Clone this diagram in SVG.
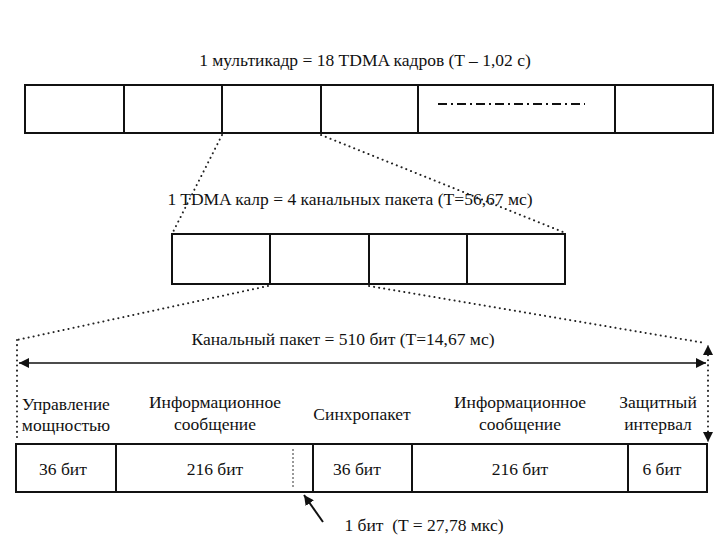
<svg xmlns="http://www.w3.org/2000/svg" width="720" height="540" viewBox="0 0 720 540">
<defs>
<style>
.t{font-size:17.5px;fill:#111;text-anchor:middle;white-space:pre}
.box{fill:#fff;stroke:#111;stroke-width:2}
.div{stroke:#111;stroke-width:2}
.dot{fill:none;stroke:#222;stroke-width:2;stroke-dasharray:0.1 5;stroke-linecap:round}
.ln{fill:none;stroke:#111;stroke-width:1.5}
</style>
<marker id="ah" viewBox="0 0 10 10" refX="10" refY="5" markerWidth="10" markerHeight="10" markerUnits="userSpaceOnUse" orient="auto-start-reverse">
<path d="M0,0 L10,5 L0,10 z" fill="#111"/>
</marker>
</defs>
<rect width="720" height="540" fill="#fff"/>
<g font-family="'Liberation Serif', 'Times New Roman', serif">
<g id="multiframe">
<text class="t" x="365" y="66" font-size="17.8">1 мультикадр = 18 TDMA кадров (T – 1,02 с)</text>
<rect class="box" x="25" y="85" width="688" height="48"/>
<line class="div" x1="124" y1="85" x2="124" y2="133"/>
<line class="div" x1="222" y1="85" x2="222" y2="133"/>
<line class="div" x1="321" y1="85" x2="321" y2="133"/>
<line class="div" x1="418" y1="85" x2="418" y2="133"/>
<line class="div" x1="615" y1="85" x2="615" y2="133"/>
<line x1="438" y1="104" x2="585" y2="104" stroke="#111" stroke-width="2" stroke-dasharray="9 4 2 4"/>
</g>

<g id="tdma-frame">
<text class="t" x="350" y="205">1 TDMA калр = 4 канальных пакета (Т=56,67 мс)</text>
<rect class="box" x="172" y="234" width="393" height="50"/>
<line class="div" x1="270" y1="234" x2="270" y2="284"/>
<line class="div" x1="369" y1="234" x2="369" y2="284"/>
<line class="div" x1="467" y1="234" x2="467" y2="284"/>
</g>

<g id="channel-packet">
<text class="t" x="343" y="345">Канальный пакет = 510 бит (T=14,67 мс)</text>
<text class="t" x="66" y="410">Управление</text>
<text class="t" x="66" y="431">мощностью</text>
<text class="t" x="215" y="408">Информационное</text>
<text class="t" x="215" y="430">сообщение</text>
<text class="t" x="362" y="420">Синхропакет</text>
<text class="t" x="520" y="408">Информационное</text>
<text class="t" x="520" y="430">сообщение</text>
<text class="t" x="658" y="408">Защитный</text>
<text class="t" x="658" y="430">интервал</text>
<rect class="box" x="16" y="444" width="691" height="48"/>
<line class="div" x1="116" y1="444" x2="116" y2="492"/>
<line class="div" x1="313" y1="444" x2="313" y2="492"/>
<line class="div" x1="412" y1="444" x2="412" y2="492"/>
<line class="div" x1="628" y1="444" x2="628" y2="492"/>
<line x1="293" y1="449" x2="293" y2="489" stroke="#333" stroke-width="1" stroke-dasharray="2 2"/>
<text class="t" x="63" y="475">36 бит</text>
<text class="t" x="215" y="475">216 бит</text>
<text class="t" x="357" y="475">36 бит</text>
<text class="t" x="520" y="475">216 бит</text>
<text class="t" x="662" y="475">6 бит</text>
</g>

<g id="bit-label">
<text class="t" x="424" y="531">1 бит  (T = 27,78 мкс)</text>
</g>
</g>

<g id="connectors">
<line class="dot" x1="222" y1="135" x2="173" y2="232"/>
<line class="dot" x1="321" y1="135" x2="563" y2="232"/>
<line class="dot" x1="268" y1="286" x2="17" y2="340"/>
<line class="dot" x1="369" y1="286" x2="705" y2="343"/>
<line class="dot" x1="17" y1="340" x2="17" y2="442"/>
<line class="dot" x1="708" y1="350" x2="708" y2="438"/>
<line class="ln" x1="19" y1="363" x2="706" y2="363" marker-start="url(#ah)" marker-end="url(#ah)"/>
<path d="M708,355 L708,345" fill="none" stroke="#111" stroke-width="0.5" marker-end="url(#ah)"/>
<path d="M708,432 L708,442" fill="none" stroke="#111" stroke-width="0.5" marker-end="url(#ah)"/>
<line x1="323" y1="522" x2="304" y2="495" stroke="#111" stroke-width="2" marker-end="url(#ah)"/>
</g>
</svg>
